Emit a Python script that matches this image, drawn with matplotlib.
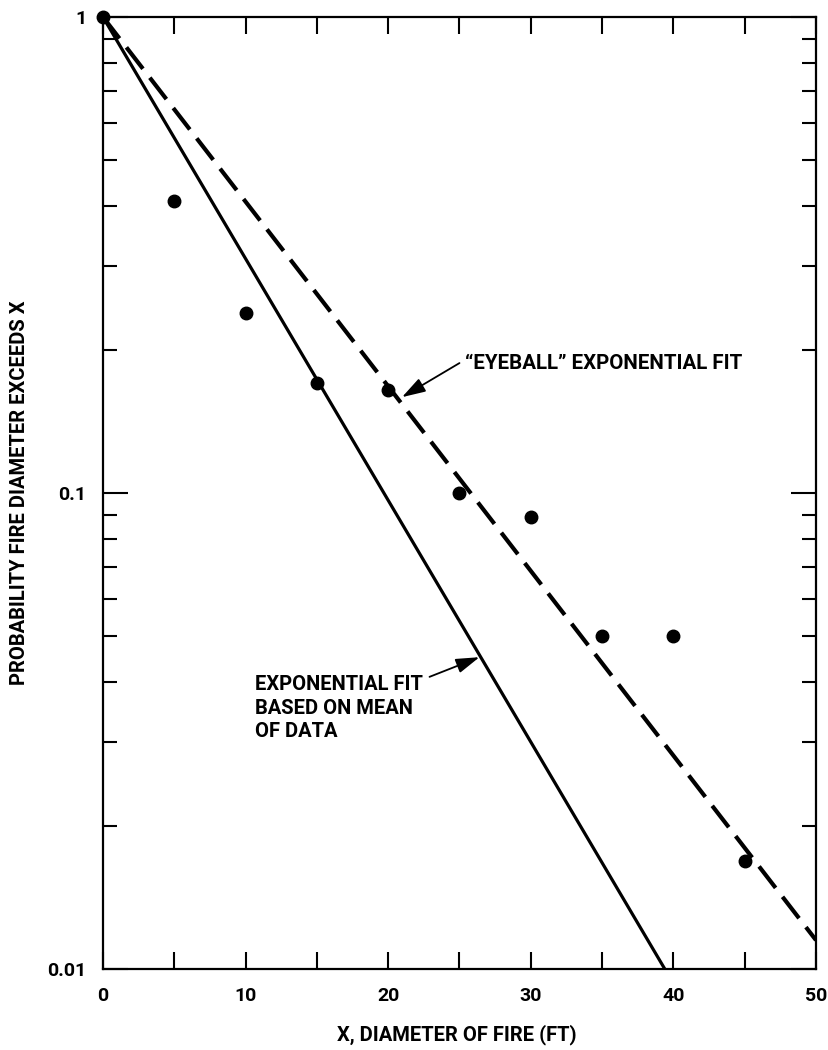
import matplotlib
matplotlib.use('Agg')
import matplotlib.pyplot as plt
import matplotlib.ticker as mticker
import numpy as np

# observed fractions of fires with diameter exceeding x
diam = [0, 5, 10, 15, 20, 25, 30, 35, 40, 45]
prob = [1.0, 0.41, 0.239, 0.170, 0.165, 0.10, 0.089, 0.050, 0.050, 0.0169]

# fitted exponential lines (end points)
mean_fit_x = [0, 39.4]
mean_fit_y = [1.0, 0.01]
eyeball_fit_x = [0, 50]
eyeball_fit_y = [1.0, 0.0115]

x_ticks = [0, 10, 20, 30, 40, 50]
y_ticks = [0.01, 0.1, 1]
y_tick_labels = ['0.01', '0.1', '1']

plt.rcParams['font.family'] = ['Roboto', 'DejaVu Sans']
plt.rcParams['font.weight'] = 'bold'
plt.rcParams['axes.labelweight'] = 'bold'

fig = plt.figure(figsize=(8.29, 10.5), dpi=100)
ax = fig.add_axes([0.1242, 0.0771, 0.8601, 0.9067])

ax.plot(mean_fit_x, mean_fit_y, color='black', lw=2.3, solid_capstyle='butt')
ax.plot(eyeball_fit_x, eyeball_fit_y, color='black', lw=3.0,
        dashes=(6.5, 2.7), dash_capstyle='butt')
ax.plot(diam, prob, 'o', color='black', ms=9, clip_on=False, zorder=5)

ax.set_yscale('log')
ax.set_xlim(0, 50)
ax.set_ylim(0.01, 1)

ax.set_xticks(x_ticks)
ax.xaxis.set_minor_locator(mticker.MultipleLocator(5))
ax.set_yticks(y_ticks)
ax.set_yticklabels(y_tick_labels)
ax.yaxis.set_minor_locator(mticker.LogLocator(base=10, subs=np.arange(2, 10)))
ax.yaxis.set_minor_formatter(mticker.NullFormatter())

ax.tick_params(axis='both', which='both', direction='in', top=True, right=True,
               width=1.5, color='black', labelsize=14)
ax.tick_params(axis='x', which='both', length=12.5, pad=13)
ax.tick_params(axis='y', which='major', length=18, pad=12)
ax.tick_params(axis='y', which='minor', length=10)
for s in ax.spines.values():
    s.set_linewidth(1.6)

ax.set_xlabel('X, DIAMETER OF FIRE (FT)', fontsize=14.5)
ax.set_ylabel('PROBABILITY FIRE DIAMETER EXCEEDS X', fontsize=14.5)
ax.xaxis.set_label_coords(0.5 - 0.004, -0.058)
ax.yaxis.set_label_coords(-0.104, 0.5)

# annotations
ax.text(25.4, 0.1875, '\u201cEYEBALL\u201d EXPONENTIAL FIT', fontsize=14.8,
        ha='left', va='center')
ax.annotate('', xy=(20.97, 0.159), xytext=(25.0, 0.1875),
            arrowprops=dict(arrowstyle='-|>,head_length=0.8,head_width=0.25',
                            color='black', lw=1.3,
                            mutation_scale=18, shrinkA=0, shrinkB=0))
ax.text(10.66, 0.0353, 'EXPONENTIAL FIT\nBASED ON MEAN\nOF DATA', fontsize=14.5,
        ha='left', va='center', linespacing=1.3)
ax.annotate('', xy=(26.4, 0.0452), xytext=(22.9, 0.0411),
            arrowprops=dict(arrowstyle='-|>,head_length=0.8,head_width=0.25',
                            color='black', lw=1.3,
                            mutation_scale=18, shrinkA=0, shrinkB=0))

fig.savefig('out.png', dpi=100)
